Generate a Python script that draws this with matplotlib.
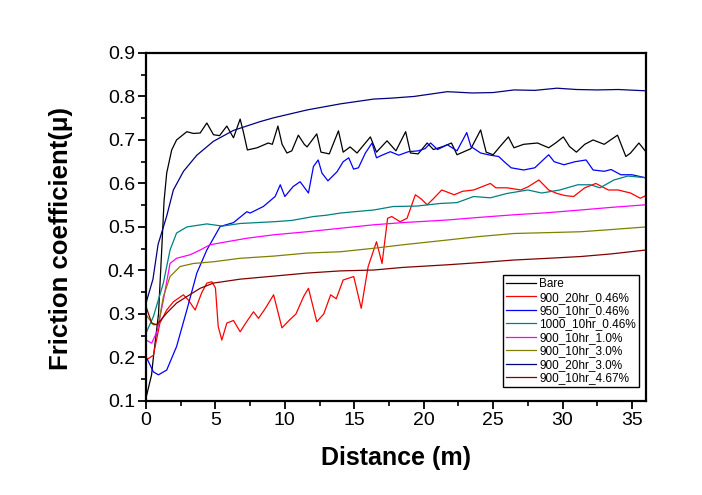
import matplotlib
matplotlib.use("Agg")
import matplotlib.pyplot as plt
from matplotlib.ticker import MultipleLocator

plt.rcParams['font.family'] = ['Liberation Sans', 'DejaVu Sans']

# values
bare_x = [0, 0.4, 0.53, 0.9, 1.13, 1.3, 1.49, 1.85, 2.2, 2.94,
          3.4, 3.9, 4.38, 4.86, 5.3, 5.82, 6.3, 6.78, 7.0, 7.3,
          8.0, 8.8, 9.1, 9.5, 9.8, 10.15, 10.5, 10.97, 11.4, 11.6,
          12.3, 12.6, 13.2, 13.86, 14.2, 14.7, 15.2, 16.16, 16.6, 17.36,
          18.0, 18.7, 19.05, 19.6, 20.25, 20.7, 21.4, 22.0, 22.4, 23.4,
          24.1, 24.5, 25.0, 25.5, 26.1, 26.5, 27.2, 28.2, 29.0, 29.5,
          30.06, 30.5, 31.0, 31.6, 32.2, 33.0, 33.96, 34.56, 34.9, 35.5,
          36.0]
bare_y = [0.107, 0.16, 0.2, 0.3, 0.447, 0.56, 0.624, 0.677, 0.70, 0.719,
          0.715, 0.716, 0.739, 0.712, 0.71, 0.732, 0.705, 0.748, 0.72, 0.677,
          0.682, 0.693, 0.69, 0.732, 0.69, 0.670, 0.675, 0.711, 0.69, 0.684,
          0.714, 0.672, 0.668, 0.721, 0.672, 0.684, 0.67, 0.707, 0.672, 0.698,
          0.675, 0.719, 0.670, 0.668, 0.693, 0.678, 0.685, 0.693, 0.666, 0.680,
          0.723, 0.672, 0.666, 0.685, 0.707, 0.682, 0.690, 0.693, 0.682, 0.693,
          0.707, 0.685, 0.672, 0.690, 0.700, 0.690, 0.711, 0.662, 0.670, 0.693,
          0.673]

r046_x = [0, 0.53, 1.0, 1.49, 1.97, 2.69, 3.05, 3.54, 4.0, 4.38,
          4.74, 5.0, 5.2, 5.46, 5.82, 6.3, 6.78, 7.2, 7.74, 8.1,
          8.6, 9.19, 9.79, 10.3, 10.8, 11.35, 11.7, 12.3, 12.8, 13.3,
          13.7, 14.2, 14.96, 15.5, 16.0, 16.6, 17.0, 17.4, 17.7, 18.3,
          18.8, 19.4, 19.8, 20.25, 20.7, 21.3, 22.2, 22.8, 23.6, 24.8,
          25.2, 26.0, 27.0, 27.5, 28.3, 29.0, 29.6, 30.2, 30.8, 31.6,
          32.4, 33.3, 34.0, 34.9, 35.6, 36.0]
r046_y = [0.194, 0.205, 0.279, 0.309, 0.328, 0.344, 0.332, 0.309, 0.348, 0.371,
          0.374, 0.36, 0.271, 0.24, 0.279, 0.285, 0.259, 0.28, 0.305, 0.29,
          0.313, 0.344, 0.268, 0.285, 0.30, 0.34, 0.359, 0.282, 0.30, 0.344,
          0.335, 0.378, 0.386, 0.313, 0.409, 0.466, 0.416, 0.52, 0.524, 0.512,
          0.52, 0.574, 0.565, 0.551, 0.565, 0.585, 0.574, 0.582, 0.585, 0.60,
          0.59, 0.59, 0.585, 0.592, 0.608, 0.585, 0.577, 0.572, 0.57, 0.59,
          0.60, 0.585, 0.585, 0.578, 0.566, 0.572]

b950_x = [0, 0.53, 0.89, 1.49, 2.2, 2.94, 3.66, 4.38, 5.34, 6.3,
          7.26, 7.5, 8.45, 9.3, 9.67, 10.0, 10.6, 11.1, 11.7, 12.06,
          12.4, 12.67, 13.1, 13.76, 14.2, 14.6, 14.95, 15.3, 15.8, 16.28,
          16.6, 17.0, 17.6, 18.2, 18.9, 19.6, 20.1, 20.5, 21.0, 21.7,
          22.4, 23.1, 23.4, 24.1, 24.8, 25.4, 25.8, 26.3, 27.2, 28.0,
          29.0, 29.4, 30.1, 30.9, 31.7, 32.2, 33.0, 33.5, 34.2, 35.0,
          36.0]
b950_y = [0.202, 0.167, 0.16, 0.171, 0.225, 0.309, 0.394, 0.447, 0.501, 0.51,
          0.535, 0.532, 0.547, 0.57, 0.597, 0.57, 0.593, 0.604, 0.578, 0.639,
          0.654, 0.624, 0.606, 0.627, 0.650, 0.659, 0.633, 0.636, 0.670, 0.693,
          0.659, 0.665, 0.673, 0.665, 0.673, 0.675, 0.680, 0.693, 0.678, 0.689,
          0.675, 0.717, 0.685, 0.670, 0.665, 0.662, 0.650, 0.636, 0.631, 0.636,
          0.666, 0.650, 0.643, 0.650, 0.654, 0.631, 0.628, 0.632, 0.620, 0.620,
          0.613]

t1000_x = [0, 0.53, 1.25, 1.73, 2.2, 2.94, 4.38, 5.5, 6.78, 9.2,
           10.5, 12.07, 13.0, 14.0, 15.0, 16.4, 17.8, 19.5, 21.2, 22.4,
           23.6, 24.8, 26.0, 27.5, 28.5, 29.8, 31.1, 32.0, 32.7, 33.7,
           34.7, 35.4, 36.0]
t1000_y = [0.256, 0.294, 0.371, 0.447, 0.486, 0.50, 0.507, 0.502, 0.508, 0.512,
           0.515, 0.524, 0.527, 0.532, 0.535, 0.539, 0.547, 0.548, 0.554, 0.556,
           0.57, 0.567, 0.577, 0.585, 0.578, 0.585, 0.597, 0.597, 0.590, 0.608,
           0.617, 0.615, 0.613]

m10_x = [0, 0.41, 0.8, 1.25, 1.73, 2.2, 3.17, 3.9, 4.6, 5.82,
         7.26, 9.2, 11.6, 14.0, 16.4, 18.5, 21.7, 24.0, 26.5, 29.0,
         31.3, 33.5, 36.0]
m10_y = [0.24, 0.233, 0.26, 0.332, 0.416, 0.428, 0.436, 0.447, 0.459, 0.466,
         0.474, 0.482, 0.489, 0.497, 0.505, 0.51, 0.516, 0.522, 0.528, 0.533,
         0.539, 0.545, 0.551]

o30_x = [0, 0.53, 0.9, 1.25, 1.73, 2.45, 3.4, 4.86, 6.78, 9.2,
         11.6, 14.0, 16.4, 18.5, 21.7, 24.0, 26.5, 29.0, 31.3, 33.5,
         36.0]
o30_y = [0.298, 0.275, 0.277, 0.34, 0.386, 0.409, 0.416, 0.42, 0.428, 0.433,
         0.44, 0.443, 0.451, 0.459, 0.47, 0.478, 0.485, 0.487, 0.489, 0.494,
         0.50]

n30_x = [0, 0.5, 0.87, 1.49, 1.97, 2.7, 3.66, 4.86, 6.3, 8.2,
         9.2, 11.6, 14.0, 16.4, 17.6, 19.3, 21.7, 23.5, 25.0, 26.5,
         28.0, 29.6, 31.0, 32.5, 34.0, 36.0]
n30_y = [0.325, 0.38, 0.46, 0.525, 0.585, 0.628, 0.665, 0.697, 0.722, 0.742,
         0.751, 0.769, 0.783, 0.794, 0.796, 0.80, 0.811, 0.808, 0.809, 0.815,
         0.814, 0.819, 0.816, 0.815, 0.816, 0.813]

d467_x = [0, 0.41, 0.77, 1.49, 2.2, 2.94, 3.9, 4.86, 6.78, 9.2,
          11.6, 14.0, 16.4, 18.5, 21.7, 24.0, 26.5, 29.0, 31.3, 33.5,
          36.0]
d467_y = [0.317, 0.279, 0.275, 0.302, 0.325, 0.34, 0.359, 0.371, 0.38, 0.387,
          0.394, 0.399, 0.401, 0.407, 0.413, 0.418, 0.424, 0.428, 0.432, 0.438,
          0.447]

labels = ['Bare', '900_20hr_0.46%', '950_10hr_0.46%', '1000_10hr_0.46%',
          '900_10hr_1.0%', '900_10hr_3.0%', '900_20hr_3.0%', '900_10hr_4.67%']
colors = ['#000000', '#ff0000', '#0000ff', '#008080',
          '#ff00ff', '#808000', '#000080', '#800000']
series = [(bare_x, bare_y), (r046_x, r046_y), (b950_x, b950_y), (t1000_x, t1000_y),
          (m10_x, m10_y), (o30_x, o30_y), (n30_x, n30_y), (d467_x, d467_y)]

fig = plt.figure(figsize=(7.02, 4.95), dpi=100)
ax = fig.add_axes([0.208, 0.190, 0.712, 0.703])

for (xs, ys), lab, c in zip(series, labels, colors):
    ax.plot(xs, ys, color=c, lw=0.9, label=lab)

ax.set_xlim(0, 36)
ax.set_ylim(0.1, 0.9)
ax.xaxis.set_major_locator(MultipleLocator(5))
ax.xaxis.set_minor_locator(MultipleLocator(2.5))
ax.yaxis.set_minor_locator(MultipleLocator(0.05))
ax.set_yticks([0.1, 0.2, 0.3, 0.4, 0.5, 0.6, 0.7, 0.8, 0.9])
ax.set_yticklabels(['0.1', '0.2', '0.3', '0.4', '0.5', '0.6', '0.7', '0.8', '0.9'])
ax.tick_params(which='major', direction='out', length=6, width=1.3, labelsize=14, pad=2)
ax.tick_params(which='minor', direction='out', length=3.5, width=1.2)
for sp in ax.spines.values():
    sp.set_linewidth(1.6)

ax.set_xlabel('Distance (m)', fontsize=18, fontweight='bold', labelpad=12)
ax.set_ylabel('Friction coefficient(μ)', fontsize=18.5, fontweight='bold')
ax.yaxis.set_label_coords(-0.146, 0.466)

leg = ax.legend(loc='lower right', bbox_to_anchor=(0.986, 0.04), fontsize=8.5,
                frameon=True, fancybox=False, edgecolor='black', framealpha=1,
                handlelength=2.5, handletextpad=0.3, labelspacing=0.12,
                borderpad=0.25, borderaxespad=0)
leg.get_frame().set_linewidth(1.0)

fig.savefig('out.png', dpi=100)
